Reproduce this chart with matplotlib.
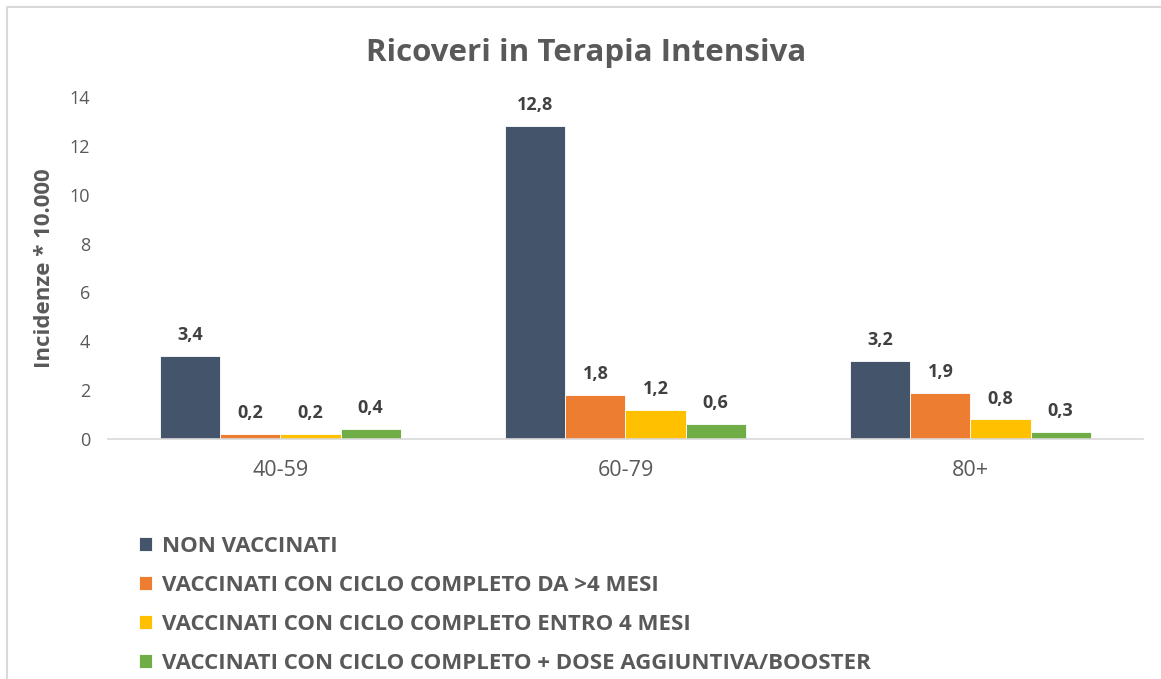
import numpy as np
import matplotlib.pyplot as plt
from matplotlib.lines import Line2D

# age groups and incidence per 10.000
groups = ['40-59', '60-79', '80+']
series_names = ['NON VACCINATI',
                'VACCINATI CON CICLO COMPLETO DA >4 MESI',
                'VACCINATI CON CICLO COMPLETO ENTRO 4 MESI',
                'VACCINATI CON CICLO COMPLETO + DOSE AGGIUNTIVA/BOOSTER']
non_vacc = [3.4, 12.8, 3.2]
vacc_old = [0.2, 1.8, 1.9]
vacc_new = [0.2, 1.2, 0.8]
booster = [0.4, 0.6, 0.3]
colors = ['#44546A', '#ED7D31', '#FFC000', '#70AD47']

plt.rcParams['font.family'] = ['Open Sans', 'DejaVu Sans']

fig = plt.figure(figsize=(11.61, 6.79), dpi=100)
ax = fig.add_axes([0.093, 0.3535, 0.8915, 0.5037])

# light frame (top and left edges only visible)
fig.lines.append(Line2D([7/1161, 7/1161, 1], [0, 1 - 7/679, 1 - 7/679],
                        transform=fig.transFigure, color='#D9D9D9', lw=1.5))

x = np.arange(len(groups))
w = 0.174
all_series = [non_vacc, vacc_old, vacc_new, booster]
for i, vals in enumerate(all_series):
    pos = x + (i - 1.5) * w
    bars = ax.bar(pos, vals, w, color=colors[i], label=series_names[i],
                  edgecolor='white', linewidth=0.6, zorder=2)
    for b, v in zip(bars, vals):
        ax.annotate(('%.1f' % v).replace('.', ','),
                    (b.get_x() + b.get_width() / 2, v),
                    xytext=(0, 15), textcoords='offset points',
                    ha='center', va='center', fontsize=13,
                    fontweight='bold', color='#404040')

ax.set_xlim(-0.5, 2.5)
ax.set_ylim(0, 14)
ax.set_yticks(range(0, 15, 2))
ax.set_xticks(x)
ax.set_xticklabels(groups)
ax.tick_params(axis='both', length=0, colors='#595959')
ax.tick_params(axis='x', pad=15, labelsize=15.5)
ax.tick_params(axis='y', pad=13, labelsize=13)
for s in ['top', 'right', 'left']:
    ax.spines[s].set_visible(False)
ax.spines['bottom'].set_color('#D9D9D9')
ax.spines['bottom'].set_linewidth(1.2)

ax.set_ylabel('Incidenze * 10.000', fontsize=16, fontweight='bold',
              color='#595959', labelpad=10)
fig.text(0.505, 0.922, 'Ricoveri in Terapia Intensiva', ha='center',
         va='center', fontsize=22.5, fontweight='bold', color='#595959')

leg = fig.legend(loc='upper left', bbox_to_anchor=(130/1161, 1 - 527/679),
                 frameon=False, prop={'size': 16, 'weight': 'bold'},
                 handlelength=0.6, handleheight=0.6, handletextpad=0.45,
                 labelspacing=0.81, borderaxespad=0)
for t in leg.get_texts():
    t.set_color('#595959')

plt.savefig('out.png', dpi=100)
